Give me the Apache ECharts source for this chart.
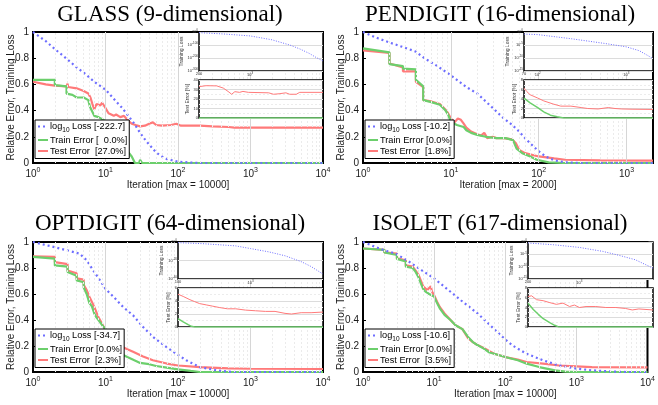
<!DOCTYPE html>
<html><head><meta charset="utf-8">
<script src="https://cdn.jsdelivr.net/npm/echarts@6/dist/echarts.min.js"></script>
<style>html,body{margin:0;padding:0;background:#fff}#c{width:658px;height:405px}</style>
</head><body><div id="c"></div>
<script>
// ---------------- DATA ----------------
const titles = ['GLASS (9-dimensional)', 'PENDIGIT (16-dimensional)', 'OPTDIGIT (64-dimensional)', 'ISOLET (617-dimensional)'];
const maxIters = [10000, 2000, 10000, 10000];
const finalLoss = ['-222.7', '-10.2', '-34.7', '-10.6'];
const finalTrain = ['  0.0%', '0.0%', '0.0%', '0.0%'];
const finalTest = ['27.0%', '1.8%', '2.3%', '3.5%'];
const insetMin = [200, 70, 100, 200];
const insetLossTicks = [[-300, 0, 100], [-15, 0, 5], [-40, 0, 20], [-15, 0, 5]];
const insetErrTicks = [[0, 40, 10], [0, 8, 2], [0, 6, 2], [0, 8, 2]];
const mainTicks = [0, 1, 0.2];

// GLASS
const glassLoss = [[1,1.0],[1.5,0.93],[2,0.87],[3,0.79],[4,0.73],[5,0.69],[7,0.62],[10,0.56],[14,0.47],[17,0.42],[20,0.37],[25,0.30],[30,0.23],[35,0.18],[40,0.14],[50,0.08],[60,0.05],[70,0.03],[100,0.01],[150,0.003],[200,0],[10000,0]];
const glassTrain = [[1,0.635],[2,0.635],[2,0.595],[2.9,0.585],[2.9,0.53],[3.5,0.52],[4,0.50],[5,0.50],[5.8,0.48],[6.1,0.43],[7,0.36],[8,0.35],[9,0.335],[10,0.32],[11.5,0.27],[13.5,0.21],[15.8,0.15],[19.5,0.10],[23,0.05],[25.5,0.0],[29,0],[30,0.025],[32,0],[10000,0]];
const glassTest = [[1,0.62],[1.5,0.60],[2,0.59],[2.9,0.585],[3,0.605],[3.05,0.58],[4,0.57],[5,0.55],[5.8,0.53],[6.2,0.50],[6.6,0.45],[7,0.41],[7.5,0.45],[8.5,0.44],[9,0.46],[10,0.42],[11,0.38],[12,0.37],[13,0.36],[14,0.37],[16,0.35],[18,0.36],[20,0.33],[23,0.30],[26,0.29],[30,0.28],[35,0.285],[40,0.30],[45,0.31],[50,0.29],[60,0.285],[80,0.29],[95,0.30],[110,0.285],[200,0.285],[300,0.28],[500,0.275],[600,0.27],[10000,0.27]];
const glassInsetLoss = [[200,-5],[430,-15],[1000,-30],[2000,-60],[3500,-100],[4800,-130],[6500,-165],[8000,-195],[10000,-222.7]];
const glassInsetTest = [[200,33],[250,34],[350,33.8],[430,31.5],[500,28],[560,25],[620,27.7],[720,27],[800,28],[950,27],[1800,26.5],[2100,25],[2500,25.5],[3100,26.5],[3500,25],[4300,25],[4800,27],[10000,27]];
const glassInsetTrain = [[200,0],[10000,0]];

// PENDIGIT
const penLoss = [[1,1.0],[1.5,0.95],[2,0.92],[3,0.88],[4,0.85],[5,0.80],[7,0.74],[10,0.67],[15,0.58],[20,0.53],[30,0.42],[40,0.34],[50,0.29],[60,0.24],[70,0.19],[80,0.15],[100,0.09],[120,0.05],[150,0.02],[200,0.005],[300,0],[2000,0]];
const penTrain = [[1,0.875],[2,0.845],[2,0.755],[2.85,0.74],[2.85,0.72],[4,0.715],[4,0.635],[4.85,0.585],[4.85,0.48],[6,0.465],[7.5,0.445],[8.6,0.405],[9.3,0.37],[10,0.315],[11.7,0.29],[14,0.275],[15,0.25],[17,0.23],[20,0.215],[25,0.2],[33,0.19],[42,0.19],[51,0.175],[56,0.11],[65,0.075],[80,0.05],[95,0.025],[130,0.005],[200,0],[2000,0]];
const penTest = [[1,0.86],[2,0.84],[2,0.76],[2.85,0.73],[2.85,0.70],[4,0.70],[4,0.62],[4.85,0.58],[4.85,0.48],[6,0.47],[7.5,0.45],[8.6,0.41],[9.3,0.38],[10,0.34],[11,0.31],[12,0.34],[13,0.33],[14,0.30],[15,0.27],[17,0.24],[20,0.22],[22,0.21],[24,0.23],[26,0.19],[30,0.2],[33,0.19],[40,0.19],[50,0.18],[55,0.15],[60,0.10],[70,0.075],[100,0.05],[150,0.035],[200,0.025],[500,0.02],[2000,0.018]];
const penInsetLoss = [[70,-0.8],[100,-1.0],[240,-2.6],[570,-4.4],[1000,-5.7],[1400,-7.2],[2000,-10.2]];
const penInsetTest = [[70,6.3],[75,5.6],[82,4.9],[100,4.2],[117,3.6],[152,2.9],[182,2.5],[237,2.5],[309,2.2],[367,2.0],[480,1.9],[626,2.2],[745,2.0],[890,1.9],[1160,1.85],[2000,1.8]];
const penInsetTrain = [[70,4.2],[82,3.2],[100,2.2],[117,1.3],[139,0.6],[166,0.27],[197,0],[2000,0]];

// OPTDIGIT
const optLoss = [[1,1.0],[2,0.96],[3,0.935],[4.4,0.91],[5.5,0.86],[6.8,0.78],[8.4,0.705],[10,0.64],[12.8,0.58],[17.5,0.5],[24,0.436],[33,0.346],[45,0.27],[70,0.19],[95,0.14],[130,0.09],[200,0.038],[340,0.013],[570,0],[10000,0]];
const optTrain = [[1,0.885],[2,0.872],[2,0.82],[3,0.81],[3,0.77],[4,0.74],[4,0.705],[5,0.69],[5,0.65],[5.5,0.60],[6,0.53],[6.5,0.505],[7,0.45],[7.5,0.42],[8,0.40],[9,0.36],[10,0.33],[11,0.295],[12,0.24],[13,0.19],[15,0.15],[17,0.135],[20,0.115],[25,0.09],[30,0.07],[40,0.06],[50,0.046],[70,0.033],[100,0.02],[150,0.008],[200,0],[10000,0]];
const optTest = [[1,0.89],[2,0.885],[2,0.845],[3,0.83],[3,0.78],[4,0.76],[4,0.72],[5,0.71],[5,0.67],[5.5,0.63],[6,0.58],[7,0.50],[8,0.42],[9,0.37],[10,0.32],[11,0.29],[12.8,0.24],[15,0.22],[17.5,0.19],[20,0.175],[24,0.155],[33,0.12],[45,0.09],[70,0.065],[100,0.05],[200,0.038],[500,0.028],[1000,0.025],[10000,0.023]];
const optInsetLoss = [[100,-0.7],[220,-1.8],[625,-4.2],[1000,-7.1],[1770,-10.6],[3000,-14.9],[5000,-21.2],[6850,-26.5],[10000,-34.7]];
const optInsetTest = [[100,5.05],[118,4.7],[146,4.2],[170,3.9],[199,3.6],[245,3.4],[302,3.2],[371,3.0],[482,2.8],[625,2.8],[855,2.6],[1170,2.5],[1600,2.4],[2180,2.4],[2990,2.1],[3670,2.0],[5000,2.2],[6850,2.2],[10000,2.3]];
const optInsetTrain = [[100,1.3],[118,0.8],[138,0.36],[153,0.1],[170,0],[10000,0]];

// ISOLET
const isoLoss = [[1,1.0],[1.9,0.94],[2.9,0.91],[4.4,0.85],[6.8,0.78],[10,0.72],[14,0.655],[24,0.55],[41,0.45],[70,0.33],[100,0.25],[130,0.2],[200,0.14],[340,0.09],[570,0.05],[1000,0.026],[1650,0.013],[2800,0.005],[5000,0],[10000,0]];
const isoTrain = [[1,0.95],[2,0.94],[2,0.92],[3,0.90],[3,0.87],[4,0.85],[4,0.81],[5,0.80],[5.5,0.77],[6,0.73],[7,0.64],[7.5,0.62],[8,0.615],[8.5,0.60],[9,0.61],[10,0.58],[11,0.53],[12,0.49],[14,0.44],[17,0.40],[20,0.36],[25,0.33],[30,0.27],[35,0.23],[40,0.21],[50,0.18],[60,0.15],[70,0.14],[100,0.115],[150,0.09],[200,0.064],[300,0.038],[500,0.013],[700,0.003],[1000,0],[10000,0]];
const isoTest = [[1,0.95],[2,0.94],[2,0.92],[3,0.91],[3,0.875],[4,0.86],[4,0.82],[5,0.81],[5.5,0.78],[6,0.75],[7,0.66],[8,0.63],[8.5,0.63],[9,0.66],[9.3,0.62],[10,0.59],[11,0.54],[12,0.50],[14,0.45],[17,0.40],[20,0.36],[25,0.33],[30,0.26],[35,0.23],[40,0.21],[50,0.185],[60,0.16],[70,0.14],[100,0.115],[150,0.095],[200,0.077],[340,0.064],[570,0.05],[1000,0.044],[1650,0.038],[10000,0.035]];
const isoInsetLoss = [[200,-0.4],[440,-1.1],[1000,-2.2],[2070,-3.8],[3450,-5.4],[5750,-7.2],[10000,-10.6]];
const isoInsetTest = [[200,6.25],[224,6.4],[261,5.6],[321,5.4],[396,5.0],[486,4.65],[598,4.9],[735,4.2],[855,4.5],[1000,4.0],[1230,4.2],[1670,4.2],[2280,4.0],[3130,4.0],[4240,3.8],[5220,3.5],[6420,3.7],[10000,3.5]];
const isoInsetTrain = [[200,4.9],[236,3.6],[276,2.6],[322,1.7],[395,0.9],[461,0.35],[511,0.07],[566,0],[10000,0]];

// ---------------- LAYOUT / STYLE ----------------
const FONT = '"Liberation Sans", Arial, Helvetica, sans-serif';
const SERIF = '"Liberation Serif", "Times New Roman", serif';
const C_LOSS = '#6e6eff', C_TRAIN = '#6ccf6c', C_TEST = '#ff7a7a', TXT = '#1a1a1a';

const panelData = [
  {loss: glassLoss, train: glassTrain, test: glassTest, iLoss: glassInsetLoss, iTest: glassInsetTest, iTrain: glassInsetTrain},
  {loss: penLoss, train: penTrain, test: penTest, iLoss: penInsetLoss, iTest: penInsetTest, iTrain: penInsetTrain},
  {loss: optLoss, train: optTrain, test: optTest, iLoss: optInsetLoss, iTest: optInsetTest, iTrain: optInsetTrain},
  {loss: isoLoss, train: isoTrain, test: isoTest, iLoss: isoInsetLoss, iTest: isoInsetTest, iTrain: isoInsetTrain}
];
const layout = [
  {left: 33, top: 32, w: 290, h: 131, iL: 199, iW: 124, i1T: 32, i1H: 39, i2T: 80, i2H: 38, titleY: 15, legTop: 120},
  {left: 363, top: 32, w: 290, h: 131, iL: 524, iW: 129, i1T: 32, i1H: 39, i2T: 80, i2H: 38, titleY: 15, legTop: 120},
  {left: 33, top: 242, w: 290, h: 130, iL: 178, iW: 145, i1T: 242, i1H: 37, i2T: 288, i2H: 39, titleY: 224, legTop: 329},
  {left: 363, top: 242, w: 290, h: 130, iL: 528, iW: 125, i1T: 242, i1H: 37, i2T: 288, i2H: 39, titleY: 224, legTop: 329}
];

function isPow10(v) { const e = Math.log10(v); return Math.abs(e - Math.round(e)) < 1e-6; }
function powLabel(v) { return '{b|10}{s|' + Math.round(Math.log10(v)) + '}'; }
function vLines(min, max) {
  const out = [];
  for (let d = 1; d <= max; d *= 10) {
    for (let k = 1; k < 10; k++) {
      const v = k * d;
      if (v <= min * 1.0001 || v >= max * 0.9999) continue;
      out.push({xAxis: v, lineStyle: {color: k === 1 ? '#d6d6d6' : '#ebebeb', width: 1, type: k === 1 ? 'solid' : [2, 2]}});
    }
  }
  return out;
}
const markBase = {symbol: ['none', 'none'], silent: true, animation: false, label: {show: false}, emphasis: {disabled: true}};

const grids = [], xAxes = [], yAxes = [], series = [], legends = [], graphics = [], nameMap = {};

panelData.forEach((pd, p) => {
  const L = layout[p];
  const mx = maxIters[p];
  const gi = grids.length;
  grids.push({left: L.left, top: L.top, width: L.w, height: L.h, show: true, borderColor: '#000', borderWidth: 2, backgroundColor: 'transparent', z: 1});
  grids.push({left: L.iL, top: L.i1T, width: L.iW, height: L.i1H, show: true, borderColor: '#000', borderWidth: 1.5, backgroundColor: '#fff', z: 10});
  grids.push({left: L.iL, top: L.i2T, width: L.iW, height: L.i2H, show: true, borderColor: '#000', borderWidth: 1.5, backgroundColor: '#fff', z: 10});

  const tickRich = {b: {fontSize: 10, fontFamily: FONT, color: TXT}, s: {fontSize: 7, fontFamily: FONT, color: TXT, padding: [0, 0, 7, 0]}};
  xAxes.push({gridIndex: gi, type: 'log', logBase: 10, min: 1, max: mx,
    axisLine: {show: false}, splitLine: {show: false},
    axisTick: {inside: true, length: 3, lineStyle: {color: '#000'}},
    axisLabel: {formatter: v => isPow10(v) ? powLabel(v) : '', rich: tickRich, margin: 4, showMaxLabel: isPow10(mx), hideOverlap: false},
    name: 'Iteration [max = ' + mx + ']', nameLocation: 'middle', nameGap: 17,
    nameTextStyle: {fontSize: 10, fontFamily: FONT, color: TXT}});
  yAxes.push({gridIndex: gi, type: 'value', min: mainTicks[0], max: mainTicks[1], interval: mainTicks[2],
    axisLine: {show: false}, splitLine: {show: false},
    axisTick: {inside: true, length: 3, lineStyle: {color: '#000'}},
    axisLabel: {fontSize: 10, fontFamily: FONT, color: TXT, margin: 4},
    name: 'Relative Error, Training Loss', nameLocation: 'middle', nameGap: 17, nameMoveOverlap: false,
    nameTextStyle: {fontSize: 10, fontFamily: FONT, color: TXT}});

  const smallLbl = {fontSize: 4, fontFamily: FONT, color: '#333', margin: 1};
  const richSmall = {b: {fontSize: 4, fontFamily: FONT, color: '#333'}, s: {fontSize: 3, fontFamily: FONT, color: '#333', padding: [0, 0, 3, 0]}};
  xAxes.push({gridIndex: gi + 1, type: 'log', logBase: 10, min: insetMin[p], max: mx, z: 11,
    axisLine: {show: false}, splitLine: {show: false}, axisTick: {show: false},
    axisLabel: Object.assign({}, smallLbl, {showMaxLabel: false, formatter: v => (Math.abs(v - insetMin[p]) < 1e-6 ? String(insetMin[p]) : (isPow10(v) ? powLabel(v) : '')), rich: richSmall})});
  const lt = insetLossTicks[p];
  yAxes.push({gridIndex: gi + 1, type: 'value', min: lt[0], max: lt[1], interval: lt[2], z: 11,
    axisLine: {show: false}, axisTick: {show: false},
    splitLine: {show: true, lineStyle: {color: '#dcdcdc', width: 1}},
    axisLabel: Object.assign({}, smallLbl, {formatter: v => '{b|10}{s|' + v + '}', rich: richSmall}),
    name: 'Training Loss', nameLocation: 'middle', nameGap: 9, nameTextStyle: {fontSize: 5, fontFamily: FONT, color: '#333'}});
  xAxes.push({gridIndex: gi + 2, type: 'log', logBase: 10, min: insetMin[p], max: mx, z: 11,
    axisLine: {show: false}, splitLine: {show: false}, axisTick: {show: false}, axisLabel: {show: false}});
  const et = insetErrTicks[p];
  yAxes.push({gridIndex: gi + 2, type: 'value', min: et[0], max: et[1], interval: et[2], z: 11,
    axisLine: {show: false}, axisTick: {show: false},
    splitLine: {show: true, lineStyle: {color: '#dcdcdc', width: 1}},
    minorTick: {show: false, splitNumber: 2},
    minorSplitLine: {show: true, lineStyle: {color: '#ececec', width: 1, type: [2, 2]}},
    axisLabel: smallLbl,
    name: 'Test Error [%]', nameLocation: 'middle', nameGap: 6, nameTextStyle: {fontSize: 5, fontFamily: FONT, color: '#333'}});

  const idL = 'p' + p + 'loss', idTr = 'p' + p + 'train', idTe = 'p' + p + 'test';
  nameMap[idL] = 'log{sub|10} Loss [' + finalLoss[p] + ']';
  nameMap[idTr] = 'Train Error [' + finalTrain[p] + ']';
  nameMap[idTe] = 'Test Error  [' + finalTest[p] + ']';

  series.push({type: 'line', name: idTe, xAxisIndex: gi, yAxisIndex: gi, data: pd.test, symbol: 'none', z: 2,
    lineStyle: {color: C_TEST, width: 2.2}, itemStyle: {color: C_TEST},
    markLine: Object.assign({}, markBase, {data: vLines(1, mx)})});
  series.push({type: 'line', name: idTr, xAxisIndex: gi, yAxisIndex: gi, data: pd.train, symbol: 'none', z: 2,
    lineStyle: {color: C_TRAIN, width: 2.2}, itemStyle: {color: C_TRAIN}});
  series.push({type: 'line', name: idL, xAxisIndex: gi, yAxisIndex: gi, data: pd.loss, symbol: 'none', z: 2,
    lineStyle: {color: C_LOSS, width: 2.2, type: [2, 3]}, itemStyle: {color: C_LOSS}});

  series.push({type: 'line', name: 'i1' + p, xAxisIndex: gi + 1, yAxisIndex: gi + 1, data: pd.iLoss, symbol: 'none', z: 12,
    lineStyle: {color: C_LOSS, width: 1, type: [1, 1.5]},
    markLine: Object.assign({}, markBase, {data: vLines(insetMin[p], mx)})});
  series.push({type: 'line', name: 'i2' + p, xAxisIndex: gi + 2, yAxisIndex: gi + 2, data: pd.iTest, symbol: 'none', z: 12,
    lineStyle: {color: C_TEST, width: 1},
    markLine: Object.assign({}, markBase, {data: vLines(insetMin[p], mx)})});
  series.push({type: 'line', name: 'i3' + p, xAxisIndex: gi + 2, yAxisIndex: gi + 2, data: pd.iTrain, symbol: 'none', z: 12,
    lineStyle: {color: C_TRAIN, width: 1.5}});

  legends.push({data: [idL, idTr, idTe], orient: 'vertical', left: L.left + 2, top: L.legTop,
    formatter: n => nameMap[n], selectedMode: false,
    backgroundColor: '#fff', borderColor: '#000', borderWidth: 1, padding: [2, 2, 3, 2],
    itemGap: 2, itemWidth: 10, itemHeight: 10, z: 20,
    itemStyle: {opacity: 0, borderWidth: 0},
    textStyle: {fontSize: 9.2, fontFamily: FONT, color: '#000', padding: [0, 0, 0, -3],
      rich: {sub: {fontSize: 6.5, fontFamily: FONT, color: '#000', padding: [7, 0, 0, 0]}}}});

  graphics.push({type: 'text', x: L.left + L.w / 2 - 8, y: L.titleY, silent: true,
    style: {text: titles[p], font: '23px ' + SERIF, fill: '#000', align: 'center', verticalAlign: 'middle', textAlign: 'center', textVerticalAlign: 'middle'}});
});

const chart = echarts.init(document.getElementById('c'), null, {renderer: 'canvas'});
chart.setOption({
  animation: false,
  backgroundColor: '#fff',
  grid: grids, xAxis: xAxes, yAxis: yAxes, series: series, legend: legends,
  graphic: {elements: graphics}
});
</script></body></html>
